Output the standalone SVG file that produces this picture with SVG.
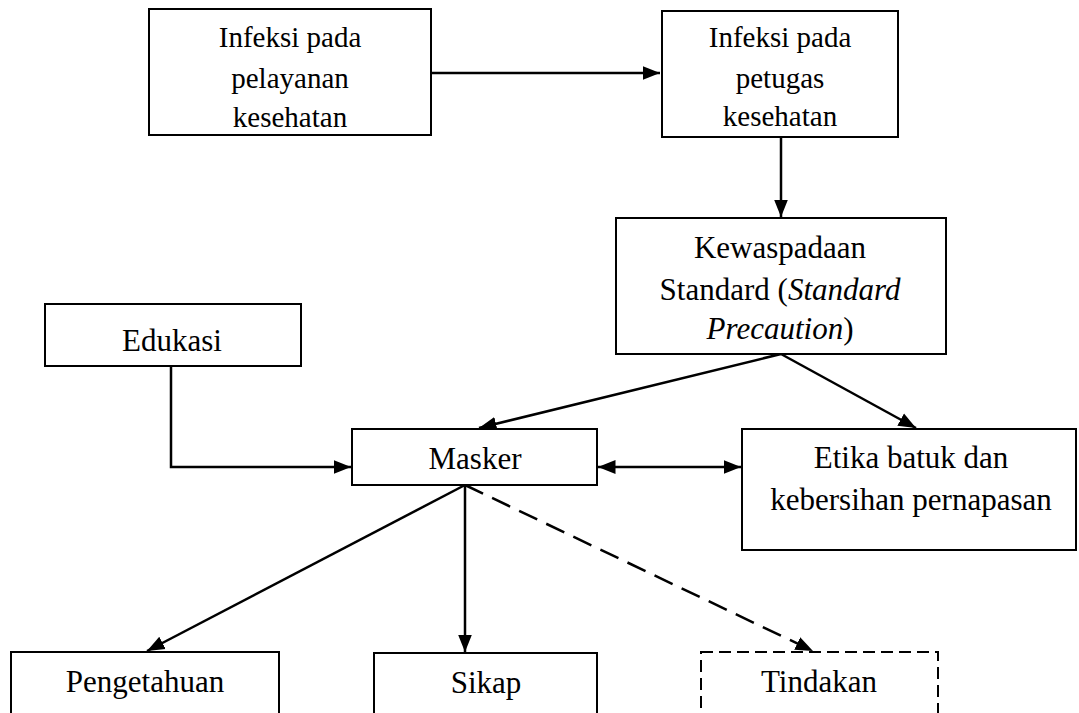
<svg xmlns="http://www.w3.org/2000/svg" width="1079" height="713" viewBox="0 0 1079 713">
<style>
.box{fill:#fff;stroke:#000;stroke-width:2}
.dbox{fill:#fff;stroke:#000;stroke-width:2;stroke-dasharray:12 6}
.t{font-family:"Liberation Serif","Times New Roman",serif;font-size:31px;fill:#000;text-anchor:middle}
.ts{font-size:29px}
.ln{fill:none;stroke:#000;stroke-width:2.5}
.dl{stroke-dasharray:20 10}
</style>
<defs>
<marker id="ah" viewBox="0 0 10 10" refX="10" refY="5" markerWidth="7" markerHeight="7" orient="auto" markerUnits="userSpaceOnUse">
<path d="M0,0 L10,5 L0,10 Z" fill="#000"/>
</marker>
<marker id="a" viewBox="0 0 10 10" refX="10" refY="5" markerWidth="7" markerHeight="7" orient="auto-start-reverse">
<path d="M0,1 L10,5 L0,9 Z" fill="#000"/>
</marker>
</defs>
<rect width="1079" height="713" fill="#fff"/>
<g id="connectors">
<line class="ln" x1="431" y1="73" x2="660" y2="73" marker-end="url(#a)"/>
<line class="ln" x1="781" y1="137" x2="781" y2="217" marker-end="url(#a)"/>
<line class="ln" x1="781" y1="354" x2="479" y2="428" marker-end="url(#a)"/>
<line class="ln" x1="781" y1="354" x2="916" y2="428" marker-end="url(#a)"/>
<polyline class="ln" points="171,366 171,467 351,467" marker-end="url(#a)"/>
<line class="ln" x1="598" y1="467" x2="741" y2="467" marker-start="url(#a)" marker-end="url(#a)"/>
<line class="ln" x1="465" y1="485" x2="147" y2="651" marker-end="url(#a)"/>
<line class="ln" x1="465" y1="485" x2="465" y2="652" marker-end="url(#a)"/>
<line class="ln dl" x1="465" y1="485" x2="813" y2="651" marker-end="url(#a)"/>
</g>
<g id="n1"><rect class="box" x="149" y="9" width="282" height="126"/>
<text class="t ts" x="290" y="47">Infeksi pada</text><text class="t ts" x="290" y="88">pelayanan</text><text class="t ts" x="290" y="127">kesehatan</text></g>
<g id="n2"><rect class="box" x="662" y="11" width="236" height="126"/>
<text class="t ts" x="780" y="47">Infeksi pada</text><text class="t ts" x="780" y="88">petugas</text><text class="t ts" x="780" y="126">kesehatan</text></g>
<g id="n3"><rect class="box" x="616" y="218" width="330" height="136"/>
<text class="t" x="780" y="258">Kewaspadaan</text>
<text class="t" x="780" y="300">Standard (<tspan font-style="italic">Standard</tspan></text>
<text class="t" x="780" y="339"><tspan font-style="italic">Precaution</tspan>)</text></g>
<g id="n4"><rect class="box" x="45" y="304" width="256" height="62"/>
<text class="t" x="172" y="351">Edukasi</text></g>
<g id="n5"><rect class="box" x="352" y="429" width="245" height="56"/>
<text class="t" x="475" y="469">Masker</text></g>
<g id="n6"><rect class="box" x="742" y="429" width="334" height="121"/>
<text class="t" x="911" y="468">Etika batuk dan</text><text class="t" x="911" y="510">kebersihan pernapasan</text></g>
<g id="n7"><rect class="box" x="11" y="652" width="268" height="70"/>
<text class="t" x="145" y="692">Pengetahuan</text></g>
<g id="n8"><rect class="box" x="374" y="653" width="223" height="70"/>
<text class="t" x="486" y="693">Sikap</text></g>
<g id="n9"><rect class="dbox" x="701" y="652" width="237" height="70"/>
<text class="t" x="819" y="692">Tindakan</text></g>
</svg>
